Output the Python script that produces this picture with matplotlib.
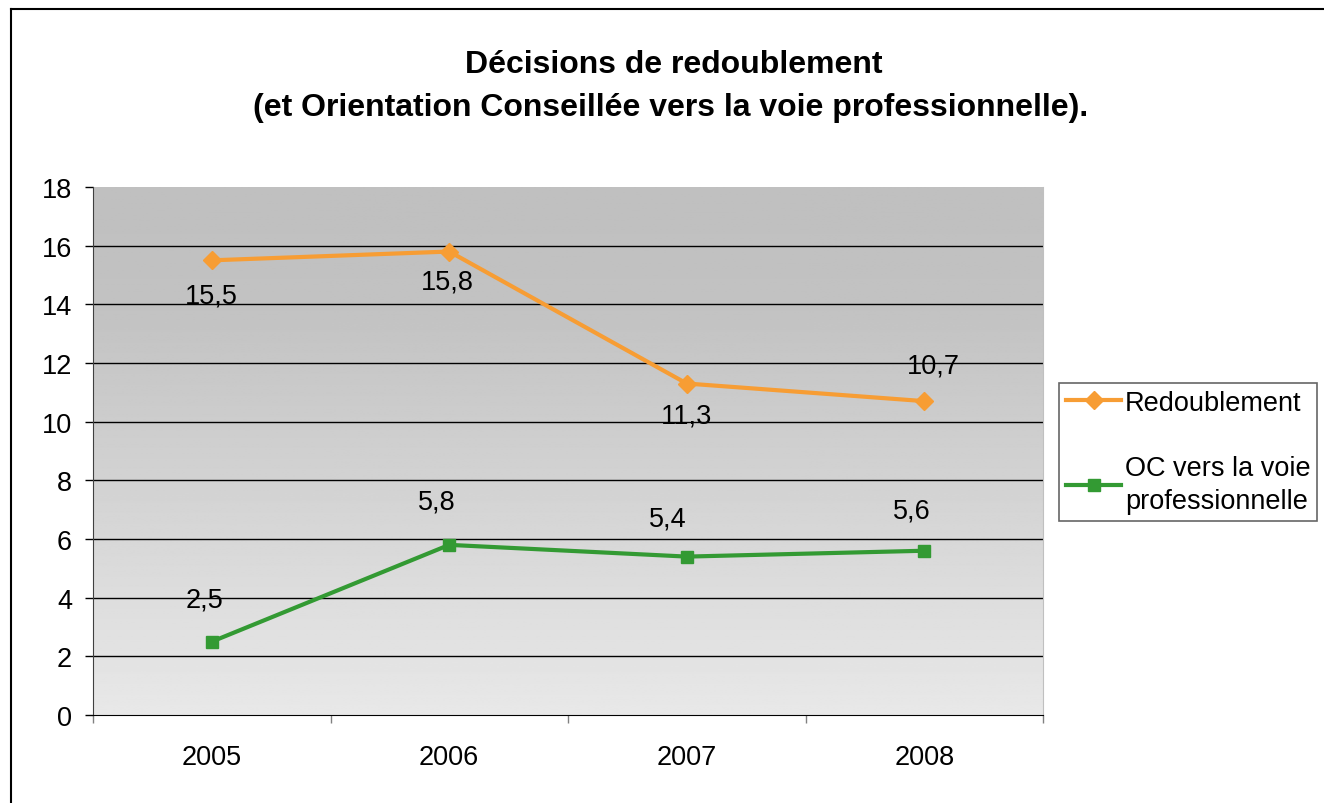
import matplotlib
matplotlib.use('Agg')
import matplotlib.pyplot as plt
from matplotlib.lines import Line2D
import numpy as np

plt.rcParams['font.family'] = ['Liberation Sans', 'DejaVu Sans']

years = ['2005', '2006', '2007', '2008']
redoublement = [15.5, 15.8, 11.3, 10.7]
oc_pro = [2.5, 5.8, 5.4, 5.6]
labels_redoublement = ['15,5', '15,8', '11,3', '10,7']
labels_oc = ['2,5', '5,8', '5,4', '5,6']

orange = '#f79d34'
green = '#339a33'
fs = 19.5

W, H = 1324, 804
fig = plt.figure(figsize=(W / 100, H / 100), dpi=100)
ax = fig.add_axes([93 / W, 1 - 716 / H, (1043 - 93) / W, (716 - 188) / H])

x = np.arange(len(years)) + 0.5
ax.set_xlim(0, len(years))
ax.set_ylim(0, 18)

# fond en dégradé (clair en bas, gris en haut)
yy = np.linspace(0, 18, 300)
shade = np.interp(yy, [0, 14, 18], [0.91, 0.76, 0.75])
grad = np.repeat(shade[:, None], 2, axis=1)
ax.imshow(grad, cmap='gray', vmin=0, vmax=1, origin='lower', aspect='auto',
          extent=[0, len(years), 0, 18], zorder=0)

for v in range(2, 18, 2):
    ax.axhline(v, color='black', lw=1.0, zorder=1)

ax.plot(x, redoublement, color=orange, lw=3, marker='D', ms=9,
        label='Redoublement', zorder=3)
ax.plot(x, oc_pro, color=green, lw=3, marker='s', ms=9,
        label='OC vers la voie\nprofessionnelle', zorder=3)

# étiquettes de données
off_r = [(0, -35), (-2, -30), (0, -32), (9, 36)]
off_g = [(-7, 42), (-12, 43), (-19, 38), (-12, 40)]
for xi, v, t, (dx, dy) in zip(x, redoublement, labels_redoublement, off_r):
    ax.annotate(t, (xi, v), xytext=(dx, dy), textcoords='offset pixels',
                ha='center', va='center', fontsize=fs, zorder=4)
for xi, v, t, (dx, dy) in zip(x, oc_pro, labels_oc, off_g):
    ax.annotate(t, (xi, v), xytext=(dx, dy), textcoords='offset pixels',
                ha='center', va='center', fontsize=fs, zorder=4)

ax.set_yticks(range(0, 19, 2))
ax.tick_params(axis='y', direction='out', length=6, width=1, pad=9, labelsize=fs)
ax.set_xticks(range(len(years) + 1))
ax.set_xticklabels([])
ax.set_xticks(x, minor=True)
ax.set_xticklabels(years, minor=True)
ax.tick_params(axis='x', which='major', direction='out', length=6, width=1, color='#808080')
ax.tick_params(axis='x', which='minor', length=0, pad=21, labelsize=fs)

ax.spines['top'].set_visible(False)
ax.spines['right'].set_color('#c0c0c0')
ax.spines['left'].set_color('#404040')
ax.spines['bottom'].set_color('black')

fig.text(674 / W, 1 - 65 / H, 'Décisions de redoublement', ha='center', va='center',
         fontsize=23, fontweight='bold')
fig.text(671 / W, 1 - 108 / H,
         '(et Orientation Conseillée vers la voie professionnelle).',
         ha='center', va='center', fontsize=23, fontweight='bold')

leg = ax.legend(loc='upper left', bbox_to_anchor=(1059 / W, 1 - 384 / H),
                bbox_transform=fig.transFigure, fontsize=fs, frameon=True,
                fancybox=False, edgecolor='#404040', handlelength=2.05,
                handletextpad=0.14, labelspacing=1.45, borderpad=0.25,
                borderaxespad=0)
leg.get_frame().set_linewidth(1.2)
for t in leg.get_texts():
    t.set_linespacing(1.35)

# cadre du graphique
fig.add_artist(Line2D([11 / W, 11 / W], [0, 1 - 10 / H], color='black', lw=1.5))
fig.add_artist(Line2D([11 / W, 1], [1 - 10 / H, 1 - 10 / H], color='black', lw=1.5))

fig.savefig('out.png', dpi=100)
